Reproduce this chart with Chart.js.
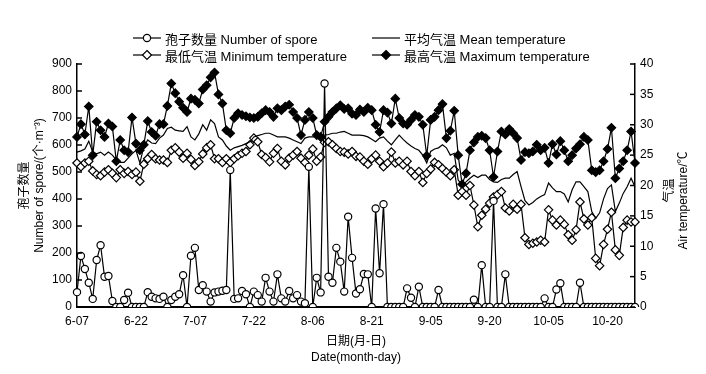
<!DOCTYPE html>
<html><head><meta charset="utf-8">
<script src="https://cdn.jsdelivr.net/npm/chart.js@4.4.1/dist/chart.umd.min.js"></script>
<style>
html,body{margin:0;padding:0;background:#fff;}
#wrap{position:relative;width:706px;height:374px;}
#c{position:absolute;left:0;top:0;}
.item{position:absolute;display:flex;align-items:center;height:16px;white-space:nowrap;font:13px 'Liberation Sans',Arial,'Noto Sans CJK SC',sans-serif;color:#000;}
.item svg{margin-right:4px;}
</style></head><body>
<div id="wrap"><canvas id="c" width="706" height="374"></canvas>
<div class="item" style="left:133px;top:30px"><svg width="28" height="12"><line x1="0" y1="6" x2="28" y2="6" stroke="#000" stroke-width="1.2"/><circle cx="14" cy="6" r="3.6" fill="#fff" stroke="#000" stroke-width="1.2"/></svg><span>孢子数量 Number of spore</span></div>
<div class="item" style="left:372px;top:30px"><svg width="28" height="12"><line x1="0" y1="6" x2="28" y2="6" stroke="#000" stroke-width="1.2"/></svg><span>平均气温 Mean temperature</span></div>
<div class="item" style="left:133px;top:47px"><svg width="28" height="12"><line x1="0" y1="6" x2="28" y2="6" stroke="#000" stroke-width="1.2"/><polygon points="14,1.5 18.5,6 14,10.5 9.5,6" fill="#fff" stroke="#000" stroke-width="1.2"/></svg><span>最低气温 Minimum temperature</span></div>
<div class="item" style="left:372px;top:47px"><svg width="28" height="12"><line x1="0" y1="6" x2="28" y2="6" stroke="#000" stroke-width="1.2"/><polygon points="14,1.5 18.5,6 14,10.5 9.5,6" fill="#000" stroke="#000" stroke-width="1.2"/></svg><span>最高气温 Maximum temperature</span></div>
</div>
<script>
// Dates (month-day), 6-07 .. 10-27
const dates = [
'6-07','6-08','6-09','6-10','6-11','6-12','6-13','6-14','6-15','6-16','6-17','6-18','6-19','6-20','6-21','6-22','6-23','6-24','6-25','6-26','6-27','6-28','6-29','6-30',
'7-01','7-02','7-03','7-04','7-05','7-06','7-07','7-08','7-09','7-10','7-11','7-12','7-13','7-14','7-15','7-16','7-17','7-18','7-19','7-20','7-21','7-22','7-23','7-24','7-25','7-26','7-27','7-28','7-29','7-30','7-31',
'8-01','8-02','8-03','8-04','8-05','8-06','8-07','8-08','8-09','8-10','8-11','8-12','8-13','8-14','8-15','8-16','8-17','8-18','8-19','8-20','8-21','8-22','8-23','8-24','8-25','8-26','8-27','8-28','8-29','8-30','8-31',
'9-01','9-02','9-03','9-04','9-05','9-06','9-07','9-08','9-09','9-10','9-11','9-12','9-13','9-14','9-15','9-16','9-17','9-18','9-19','9-20','9-21','9-22','9-23','9-24','9-25','9-26','9-27','9-28','9-29','9-30',
'10-01','10-02','10-03','10-04','10-05','10-06','10-07','10-08','10-09','10-10','10-11','10-12','10-13','10-14','10-15','10-16','10-17','10-18','10-19','10-20','10-21','10-22','10-23','10-24','10-25','10-26','10-27'];
const tickDates = ['6-07','6-22','7-07','7-22','8-06','8-21','9-05','9-20','10-05','10-20'];
const sporeTicks = [0,100,200,300,400,500,600,700,800,900];
const tempTicks = [0,5,10,15,20,25,30,35,40];

// Number of spore (个·m^-3)
const spore = [
55,189,141,90,30,174,229,112,115,22,
0,0,26,53,0,0,0,0,55,38,
32,30,38,0,26,38,47,118,0,190,
219,63,81,57,20,54,57,60,63,507,
30,32,59,47,0,57,44,20,108,57,
20,121,32,20,59,32,44,20,14,519,
0,108,54,828,112,90,219,168,57,334,
182,50,66,122,121,0,365,125,381,0,
0,0,0,0,69,34,0,75,0,0,
0,0,63,0,0,0,0,0,0,0,
0,27,0,155,0,0,393,0,0,121,
0,0,0,0,0,0,0,0,0,32,
0,0,65,88,0,0,0,0,90,0,
0,0,0,0,0,0,0,0,0,0,
0,0,0];
// Mean temperature (°C)
const meanT = [
25.5,25.7,26.0,27.3,25.5,25.2,25.5,25.0,25.5,25.0,
24.2,23.8,23.8,24.5,25.2,25.8,23.7,26.4,27.5,27.0,
26.9,27.8,28.3,29.4,29.6,29.1,29.0,28.9,29.7,28.0,
27.5,28.5,30.0,29.1,30.8,30.2,28.0,27.5,26.5,25.8,
26.2,26.4,26.6,26.9,27.2,28.0,28.2,28.4,28.6,28.6,
28.3,28.0,28.0,28.0,27.8,27.5,27.2,26.9,27.8,28.0,
28.0,28.0,28.0,28.3,28.4,28.6,28.6,28.8,28.9,28.6,
28.3,28.3,28.3,28.2,28.0,27.6,27.2,27.8,28.0,27.3,
26.7,27.5,28.3,27.6,27.0,26.5,26.1,25.8,25.0,23.7,
25.6,26.0,26.2,26.7,26.2,25.0,25.3,20.9,20.1,20.6,
21.2,21.7,21.3,21.7,21.7,21.0,20.6,20.5,21.0,21.2,
21.2,21.8,22.3,19.8,17.5,16.8,17.2,17.8,18.2,18.5,
20.4,19.6,19.0,19.0,18.6,17.3,19.3,20.6,20.6,19.8,
19.0,15.7,14.6,15.5,17.8,19.5,20.1,15.7,17.1,18.7,
19.8,21.2,19.8];
// Minimum temperature (°C)
const minT = [
23.7,23.1,23.7,24.0,22.4,21.8,21.6,22.2,22.6,22.0,
21.3,22.6,22.0,22.3,21.8,22.2,20.7,23.5,24.4,25.1,
24.4,24.2,24.2,23.8,25.8,26.2,25.5,24.5,25.3,24.3,
23.3,23.9,25.2,26.2,26.7,24.4,24.4,23.8,24.4,23.8,
24.4,24.9,25.3,25.6,26.7,27.8,27.2,25.1,24.6,23.9,
25.3,26.1,24.0,23.4,24.5,25.0,25.6,24.5,23.8,25.0,
26.0,24.0,24.7,27.1,27.2,26.7,26.1,25.6,25.5,25.2,
25.6,24.8,24.7,24.0,23.5,24.4,25.0,24.0,23.1,23.7,
25.5,23.7,24.0,23.4,24.0,22.3,21.6,22.3,20.5,22.0,
22.7,23.8,23.4,22.8,22.2,21.6,22.6,18.4,19.0,18.4,
20.0,16.8,13.2,15.1,16.1,17.1,18.1,18.5,19.0,16.3,
15.8,16.9,16.1,16.9,11.4,10.3,10.5,10.7,11.0,10.7,
16.0,14.3,13.5,14.3,13.6,11.9,11.0,12.7,17.3,14.5,
13.5,14.7,8.0,6.8,10.3,12.8,15.6,9.4,8.5,13.1,
14.3,14.0,14.0];
// Maximum temperature (°C)
const maxT = [
28.0,30.1,28.4,33.0,25.0,30.5,29.1,28.0,30.2,29.7,
24.0,27.5,25.8,25.5,31.2,26.9,25.8,26.7,30.6,28.8,
28.2,30.1,30.1,33.1,36.8,35.2,33.8,32.8,32.1,34.3,
34.1,33.5,35.8,36.5,37.8,38.6,35.0,33.5,29.1,28.6,
31.1,31.9,31.6,31.4,31.2,31.1,31.3,31.9,32.4,32.1,
31.3,32.7,32.4,33.0,33.3,32.1,31.1,28.3,30.8,32.1,
31.1,28.3,28.0,30.5,31.3,32.1,32.7,33.2,32.6,32.7,
31.8,31.6,32.5,32.1,32.8,32.4,30.0,28.8,32.4,32.0,
30.2,34.3,31.1,30.2,30.0,30.8,31.6,31.3,30.0,24.9,
30.8,31.3,32.4,33.4,27.8,29.0,32.3,25.0,20.2,22.0,
25.8,27.1,28.0,28.2,27.8,25.8,21.4,25.6,28.9,28.4,
29.3,28.6,27.8,24.2,25.5,25.3,25.6,26.7,25.8,26.2,
23.7,26.8,25.1,27.3,25.8,24.0,25.0,26.1,26.8,28.0,
27.5,22.5,22.2,22.5,24.0,26.0,29.5,21.2,22.8,24.0,
25.8,28.9,23.7];

const FONT = "'Liberation Sans', Arial, 'Noto Sans CJK SC', sans-serif";
Chart.defaults.font.family = FONT;
Chart.defaults.font.size = 12;
Chart.defaults.color = '#000';

const inwardTicks = {
  id: 'inwardTicks',
  afterDraw(chart) {
    const {ctx, chartArea} = chart;
    ctx.save();
    ctx.strokeStyle = '#000';
    ctx.lineWidth = 1.5;
    const ys = chart.scales.y, yr = chart.scales.y1;
    ys.ticks.forEach(t => {
      const p = ys.getPixelForValue(t.value);
      ctx.beginPath(); ctx.moveTo(chartArea.left, p); ctx.lineTo(chartArea.left + 5, p); ctx.stroke();
    });
    yr.ticks.forEach(t => {
      const p = yr.getPixelForValue(t.value);
      ctx.beginPath(); ctx.moveTo(chartArea.right, p); ctx.lineTo(chartArea.right - 5, p); ctx.stroke();
    });
    ctx.restore();
  }
};
const rightTitle = {
  id: 'rightTitle',
  afterDraw(chart) {
    const {ctx, chartArea} = chart;
    const cy = (chartArea.top + chartArea.bottom) / 2;
    ctx.save();
    ctx.fillStyle = '#000';
    ctx.textAlign = 'center';
    ctx.textBaseline = 'middle';
    ctx.font = "12px " + FONT;
    const draw = (txt, x, y) => { ctx.save(); ctx.translate(x, y); ctx.rotate(-Math.PI / 2); ctx.fillText(txt, 0, 0); ctx.restore(); };
    draw('气温', chartArea.right + 35, cy + 5);
    draw('Air temperature/℃', chartArea.right + 49, cy + 15);
    ctx.restore();
  }
};

new Chart(document.getElementById('c'), {
  type: 'line',
  data: {
    labels: dates,
    datasets: [
      {label: '孢子数量 Number of spore', data: spore, yAxisID: 'y', borderColor: '#000', borderWidth: 1.2,
       pointStyle: 'circle', pointRadius: 3.6, pointBackgroundColor: '#fff', pointBorderColor: '#000', pointBorderWidth: 1.2, tension: 0},
      {label: '平均气温 Mean temperature', data: meanT, yAxisID: 'y1', borderColor: '#000', borderWidth: 1.2, pointRadius: 0, tension: 0},
      {label: '最低气温 Minimum temperature', data: minT, yAxisID: 'y1', borderColor: '#000', borderWidth: 1.2,
       pointStyle: 'rectRot', pointRadius: 4.2, pointBackgroundColor: '#fff', pointBorderColor: '#000', pointBorderWidth: 1.2, tension: 0},
      {label: '最高气温 Maximum temperature', data: maxT, yAxisID: 'y1', borderColor: '#000', borderWidth: 1.2,
       pointStyle: 'rectRot', pointRadius: 4.2, pointBackgroundColor: '#000', pointBorderColor: '#000', pointBorderWidth: 1.2, tension: 0}
    ]
  },
  options: {
    responsive: false,
    animation: false,
    layout: {padding: {top: 64, left: 0, right: 0, bottom: 0}},
    plugins: {legend: {display: false}, tooltip: {enabled: false}},
    scales: {
      x: {
        type: 'category', offset: false,
        grid: {display: false, drawTicks: false},
        border: {display: true, color: '#000', width: 2},
        ticks: {autoSkip: false, maxRotation: 0, minRotation: 0, padding: 7, font: {size: 12},
          callback: function(v, i) { const l = dates[i]; return tickDates.includes(l) ? l : ''; }},
        title: {display: true, text: ['日期(月-日)', 'Date(month-day)'], font: {size: 12, lineHeight: 1.35}, padding: {top: 0, bottom: 8}},
        afterFit(s) { s.height = 67; }
      },
      y: {
        position: 'left', min: 0, max: 900,
        afterBuildTicks(s) { s.ticks = sporeTicks.map(v => ({value: v})); },
        grid: {display: false, drawTicks: false},
        border: {display: true, color: '#000', width: 1.5},
        ticks: {padding: 5, font: {size: 12}},
        title: {display: true, text: ['孢子数量', 'Number of spore/(个·m⁻³)'], font: {size: 12, lineHeight: 1.25}, padding: {top: 17}},
        afterFit(s) { s.width = 77; }
      },
      y1: {
        position: 'right', min: 0, max: 40,
        afterBuildTicks(s) { s.ticks = tempTicks.map(v => ({value: v})); },
        grid: {display: false, drawTicks: false},
        border: {display: true, color: '#000', width: 1.5},
        ticks: {padding: 5, font: {size: 12}},
        afterFit(s) { s.width = 71; }
      }
    }
  },
  plugins: [inwardTicks, rightTitle]
});
</script>
</body></html>
